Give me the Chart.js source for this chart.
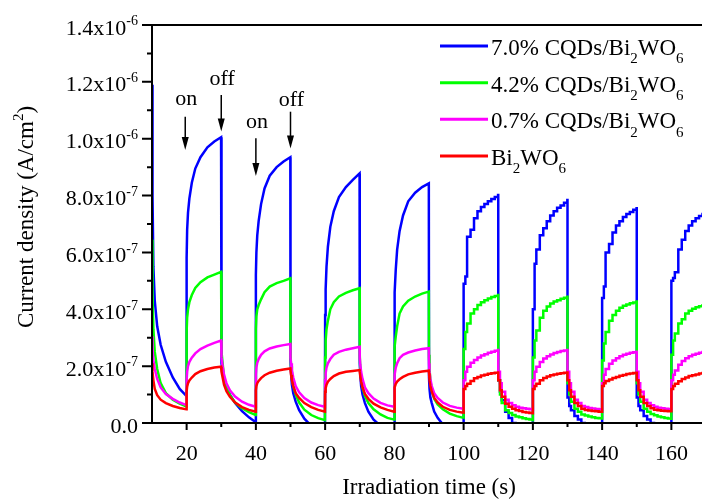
<!DOCTYPE html>
<html>
<head>
<meta charset="utf-8">
<script src="https://cdn.jsdelivr.net/npm/chart.js@4.4.0/dist/chart.umd.min.js"></script>
<style>
  html, body { margin: 0; padding: 0; background: #fff; overflow: hidden; }
  canvas { display: block; }
</style>
</head>
<body>
<canvas id="chart" width="706" height="499"></canvas>
<script>
// 値の単位は 1e-7 A/cm2
const UNIT = 1e-7;

// 10〜100 s（滑らかな区間）の時刻
const TIME_SMOOTH = [
  10, 10.15, 10.4, 10.8, 11.5, 12.5, 14, 16, 18, 19.95,
  20, 20.15, 20.4, 20.8, 21.5, 22.5, 24, 26, 28, 29.95,
  30, 30.15, 30.4, 30.8, 31.5, 32.5, 34, 36, 38, 39.95,
  40, 40.15, 40.4, 40.8, 41.5, 42.5, 44, 46, 48, 49.95,
  50, 50.15, 50.4, 50.8, 51.5, 52.5, 54, 56, 58, 59.95,
  60, 60.15, 60.4, 60.8, 61.5, 62.5, 64, 66, 68, 69.95,
  70, 70.15, 70.4, 70.8, 71.5, 72.5, 74, 76, 78, 79.95,
  80, 80.15, 80.4, 80.8, 81.5, 82.5, 84, 86, 88, 89.95,
  90, 90.15, 90.4, 90.8, 91.5, 92.5, 94, 96, 98, 99.95,
];

// 100〜170 s（階段状の区間）の時刻
const TIME_STEP = [
  100, 100.5, 101, 102, 103, 104, 105, 106, 107, 108, 109, 109.95,
  110, 110.5, 111, 112, 113, 114, 115, 116, 117, 118, 119, 119.95,
  120, 120.5, 121, 122, 123, 124, 125, 126, 127, 128, 129, 129.95,
  130, 130.5, 131, 132, 133, 134, 135, 136, 137, 138, 139, 139.95,
  140, 140.5, 141, 142, 143, 144, 145, 146, 147, 148, 149, 149.95,
  150, 150.5, 151, 152, 153, 154, 155, 156, 157, 158, 159, 159.95,
  160, 160.5, 161, 162, 163, 164, 165, 166, 167, 168, 169, 169.95,
];

const BLUE_SMOOTH = [
  11.9, 8.0, 5.5, 4.3, 3.4, 2.75, 2.15, 1.6, 1.2, 0.95,
  5.8, 6.8, 7.4, 7.9, 8.45, 8.95, 9.35, 9.7, 9.9, 10.05,
  2.6, 2.1, 1.8, 1.55, 1.25, 1.0, 0.7, 0.42, 0.2, 0.03,
  5.2, 6.0, 6.6, 7.1, 7.7, 8.25, 8.7, 9.0, 9.2, 9.35,
  2.2, 1.8, 1.35, 1.05, 0.75, 0.45, 0.15, -0.1, -0.3, -0.4,
  3.8, 4.7, 5.5, 6.2, 6.9, 7.45, 7.95, 8.3, 8.55, 8.78,
  2.1, 1.7, 1.3, 1.0, 0.7, 0.4, 0.12, -0.1, -0.3, -0.4,
  3.8, 4.6, 5.4, 6.1, 6.75, 7.3, 7.8, 8.1, 8.3, 8.43,
  1.6, 1.2, 0.9, 0.7, 0.4, 0.18, -0.05, -0.2, -0.35, -0.4,
];
const BLUE_STEP = [
  4.9, 5.15, 6.55, 6.8, 7.2, 7.45, 7.6, 7.7, 7.8, 7.88, 7.95, 8.02,
  1.5, 1.1, 0.8, 0.4, 0.18, 0, -0.15, -0.25, -0.3, -0.35, -0.4, -0.45,
  4.0, 5.6, 6.1, 6.6, 6.85, 7.1, 7.3, 7.45, 7.57, 7.65, 7.75, 7.84,
  0.9, 0.6, 0.45, 0.25, 0.12, 0, -0.1, -0.2, -0.25, -0.3, -0.35, -0.4,
  4.4, 4.8, 6.0, 6.3, 6.7, 6.95, 7.1, 7.25, 7.35, 7.42, 7.5, 7.55,
  0.9, 0.6, 0.45, 0.25, 0.12, 0, -0.1, -0.2, -0.25, -0.3, -0.35, -0.4,
  5.0, 5.1, 5.3, 6.1, 6.45, 6.75, 6.95, 7.1, 7.2, 7.28, 7.35, 7.4,
];

const GREEN_SMOOTH = [
  6.45, 4.5, 3.3, 2.5, 1.9, 1.4, 1.05, 0.82, 0.68, 0.58,
  3.2, 3.7, 4.0, 4.25, 4.5, 4.75, 4.95, 5.12, 5.22, 5.32,
  3.0, 2.5, 2.1, 1.6, 1.3, 0.98, 0.72, 0.52, 0.38, 0.28,
  3.3, 3.75, 4.0, 4.15, 4.35, 4.6, 4.8, 4.92, 5.0, 5.09,
  2.5, 2.0, 1.6, 1.3, 1.0, 0.72, 0.47, 0.28, 0.17, 0.1,
  2.3, 2.9, 3.3, 3.6, 4.0, 4.25, 4.45, 4.58, 4.67, 4.74,
  2.4, 1.9, 1.6, 1.25, 0.95, 0.7, 0.48, 0.3, 0.18, 0.12,
  2.3, 2.7, 3.05, 3.4, 3.85, 4.1, 4.3, 4.45, 4.55, 4.62,
  2.4, 1.9, 1.5, 1.15, 0.85, 0.65, 0.48, 0.33, 0.24, 0.18,
];
const GREEN_STEP = [
  2.6, 3.2, 3.5, 3.85, 4.0, 4.15, 4.25, 4.32, 4.38, 4.43, 4.47, 4.5,
  1.5, 1.0, 0.7, 0.45, 0.35, 0.28, 0.23, 0.2, 0.17, 0.14, 0.12, 0.1,
  2.3, 2.9, 3.25, 3.7, 3.95, 4.1, 4.2, 4.27, 4.32, 4.37, 4.41, 4.44,
  1.4, 1.0, 0.75, 0.5, 0.4, 0.3, 0.26, 0.23, 0.2, 0.18, 0.17, 0.16,
  2.2, 2.8, 3.2, 3.6, 3.8, 3.95, 4.05, 4.12, 4.17, 4.21, 4.24, 4.27,
  1.4, 1.0, 0.75, 0.5, 0.4, 0.32, 0.27, 0.23, 0.2, 0.18, 0.16, 0.15,
  2.4, 2.9, 3.15, 3.5, 3.65, 3.85, 3.95, 4.02, 4.07, 4.11, 4.14, 4.17,
];

const MAGENTA_SMOOTH = [
  3.05, 2.6, 2.2, 1.9, 1.55, 1.25, 1.02, 0.85, 0.72, 0.63,
  1.5, 1.8, 2.0, 2.15, 2.3, 2.45, 2.6, 2.72, 2.82, 2.9,
  2.6, 2.3, 2.0, 1.7, 1.4, 1.15, 0.93, 0.75, 0.64, 0.57,
  1.7, 1.95, 2.12, 2.25, 2.4, 2.52, 2.62, 2.69, 2.74, 2.78,
  2.3, 2.1, 1.85, 1.6, 1.3, 1.08, 0.88, 0.72, 0.63, 0.57,
  1.5, 1.75, 1.95, 2.1, 2.25, 2.4, 2.5, 2.58, 2.63, 2.68,
  2.3, 2.05, 1.8, 1.55, 1.25, 1.05, 0.86, 0.71, 0.62, 0.57,
  1.5, 1.7, 1.95, 2.1, 2.28, 2.4, 2.48, 2.55, 2.6, 2.63,
  2.1, 1.8, 1.55, 1.3, 1.05, 0.88, 0.72, 0.6, 0.54, 0.5,
];
const MAGENTA_STEP = [
  1.5, 1.8, 1.98, 2.12, 2.22, 2.3, 2.37, 2.42, 2.47, 2.51, 2.54, 2.57,
  1.8, 1.4, 1.1, 0.82, 0.7, 0.62, 0.57, 0.54, 0.52, 0.5, 0.48, 0.47,
  1.5, 1.8, 1.98, 2.15, 2.27, 2.35, 2.41, 2.46, 2.5, 2.53, 2.55, 2.57,
  1.8, 1.4, 1.1, 0.82, 0.7, 0.6, 0.56, 0.53, 0.51, 0.49, 0.48, 0.47,
  1.4, 1.7, 1.9, 2.08, 2.2, 2.28, 2.35, 2.4, 2.44, 2.47, 2.49, 2.51,
  1.8, 1.4, 1.1, 0.82, 0.7, 0.62, 0.57, 0.54, 0.52, 0.5, 0.49, 0.48,
  1.5, 1.7, 1.85, 2.05, 2.18, 2.28, 2.35, 2.4, 2.44, 2.47, 2.5, 2.52,
];

const RED_SMOOTH = [
  2.1, 1.8, 1.5, 1.2, 0.98, 0.82, 0.7, 0.6, 0.53, 0.48,
  1.1, 1.28, 1.4, 1.5, 1.6, 1.72, 1.82, 1.9, 1.95, 1.98,
  1.9, 1.8, 1.6, 1.35, 1.12, 0.92, 0.72, 0.56, 0.46, 0.4,
  1.15, 1.3, 1.4, 1.48, 1.58, 1.68, 1.77, 1.84, 1.88, 1.92,
  1.85, 1.7, 1.5, 1.3, 1.05, 0.88, 0.7, 0.56, 0.46, 0.4,
  1.1, 1.22, 1.35, 1.45, 1.55, 1.65, 1.74, 1.8, 1.83, 1.86,
  1.8, 1.65, 1.45, 1.25, 1.02, 0.85, 0.68, 0.55, 0.46, 0.4,
  1.1, 1.25, 1.38, 1.46, 1.54, 1.62, 1.71, 1.77, 1.81, 1.84,
  1.75, 1.5, 1.3, 1.1, 0.88, 0.72, 0.57, 0.46, 0.4, 0.36,
];
const RED_STEP = [
  1.2, 1.3, 1.38, 1.48, 1.57, 1.62, 1.67, 1.7, 1.73, 1.75, 1.77, 1.78,
  1.5, 1.15, 0.92, 0.68, 0.57, 0.5, 0.45, 0.42, 0.39, 0.37, 0.35, 0.34,
  1.2, 1.3, 1.38, 1.5, 1.58, 1.64, 1.68, 1.71, 1.73, 1.75, 1.77, 1.78,
  1.5, 1.15, 0.92, 0.7, 0.6, 0.5, 0.46, 0.44, 0.42, 0.41, 0.4, 0.4,
  1.3, 1.4, 1.48, 1.53, 1.58, 1.62, 1.66, 1.69, 1.72, 1.74, 1.76, 1.77,
  1.5, 1.15, 0.92, 0.7, 0.6, 0.52, 0.47, 0.45, 0.43, 0.42, 0.41, 0.41,
  1.2, 1.3, 1.38, 1.47, 1.55, 1.6, 1.65, 1.68, 1.71, 1.74, 1.76, 1.77,
];

// 凡例（"_" 下付き, "^" 上付き）
const LEGEND_LABELS = [
  ["7.0% CQDs/Bi", "_2", "WO", "_6"],
  ["4.2% CQDs/Bi", "_2", "WO", "_6"],
  ["0.7% CQDs/Bi", "_2", "WO", "_6"],
  ["Bi", "_2", "WO", "_6"],
];
const COLORS = ["#0000ff", "#00ff00", "#ff00ff", "#ff0000"];

// 軸目盛
const X_MAJOR = [20, 40, 60, 80, 100, 120, 140, 160];
const X_MINOR = [30, 50, 70, 90, 110, 130, 150];
const Y_MAJOR = [0, 2e-7, 4e-7, 6e-7, 8e-7, 1.0e-6, 1.2e-6, 1.4e-6];
const Y_MINOR = [1e-7, 3e-7, 5e-7, 7e-7, 9e-7, 1.1e-6, 1.3e-6];
const Y_LABELS = [
  ["0.0"], ["2.0x10", "^-7"], ["4.0x10", "^-7"], ["6.0x10", "^-7"],
  ["8.0x10", "^-7"], ["1.0x10", "^-6"], ["1.2x10", "^-6"], ["1.4x10", "^-6"],
];

// on / off 矢印
const ANNOT_LABELS = ["on", "off", "on", "off"];
const ANNOT_X      = [19.6, 30, 40, 50];
const ANNOT_TEXT_Y = [1.118e-6, 1.189e-6, 1.038e-6, 1.115e-6];
const ANNOT_TAIL_Y = [1.077e-6, 1.154e-6, 1.002e-6, 1.095e-6];
const ANNOT_TIP_Y  = [0.960e-6, 1.025e-6, 0.869e-6, 0.966e-6];

const SERIES = [
  { smooth: BLUE_SMOOTH,    step: BLUE_STEP,    order: 4 },
  { smooth: GREEN_SMOOTH,   step: GREEN_STEP,   order: 3 },
  { smooth: MAGENTA_SMOOTH, step: MAGENTA_STEP, order: 2 },
  { smooth: RED_SMOOTH,     step: RED_STEP,     order: 1 },
];

const FONT_FAMILY = '"Liberation Serif", "Times New Roman", serif';
const font = (size) => `${size}px ${FONT_FAMILY}`;

// 上付き・下付きを含む文字列を描く
function drawRich(ctx, label, x, y, align, size) {
  const small = Math.round(size * 0.65);
  const parts = label.map(s => {
    if (s[0] === "_") return { t: s.slice(1), sz: small, dy: size * 0.36 };
    if (s[0] === "^") return { t: s.slice(1), sz: small, dy: -size * 0.42 };
    return { t: s, sz: size, dy: 0 };
  });
  let total = 0;
  parts.forEach(p => { ctx.font = font(p.sz); p.w = ctx.measureText(p.t).width; total += p.w; });
  let cx = align === "right" ? x - total : align === "center" ? x - total / 2 : x;
  parts.forEach(p => {
    ctx.font = font(p.sz);
    ctx.fillText(p.t, cx, y + p.dy);
    cx += p.w;
  });
}

const datasets = [];
SERIES.forEach((s, i) => {
  const smoothData = TIME_SMOOTH.map((t, j) => ({ x: t, y: s.smooth[j] * UNIT }));
  const last = smoothData[smoothData.length - 1];
  const stepData = [last].concat(TIME_STEP.map((t, j) => ({ x: t, y: s.step[j] * UNIT })));
  const common = {
    borderColor: COLORS[i],
    borderWidth: 2.5,
    pointRadius: 0,
    tension: 0,
    fill: false,
    order: s.order,
  };
  datasets.push(Object.assign({ data: smoothData }, common));
  datasets.push(Object.assign({ data: stepData, stepped: true }, common));
});

const framePlugin = {
  id: "framePlugin",
  afterDraw(chart) {
    const ctx = chart.ctx;
    const { left, right, top, bottom } = chart.chartArea;
    const xs = chart.scales.x;
    const ys = chart.scales.y;
    ctx.save();
    ctx.strokeStyle = "#000";
    ctx.fillStyle = "#000";
    ctx.lineWidth = 2;

    // 軸線
    ctx.beginPath();
    ctx.moveTo(left, top);
    ctx.lineTo(right, top);
    ctx.moveTo(left, top - 1);
    ctx.lineTo(left, bottom);
    ctx.lineTo(right, bottom);
    ctx.stroke();

    // 目盛
    ctx.beginPath();
    Y_MAJOR.forEach(v => { const y = ys.getPixelForValue(v); ctx.moveTo(left - 10, y); ctx.lineTo(left, y); });
    Y_MINOR.forEach(v => { const y = ys.getPixelForValue(v); ctx.moveTo(left - 5, y); ctx.lineTo(left, y); });
    X_MAJOR.forEach(v => { const x = xs.getPixelForValue(v); ctx.moveTo(x, bottom); ctx.lineTo(x, bottom + 7); });
    X_MINOR.forEach(v => { const x = xs.getPixelForValue(v); ctx.moveTo(x, bottom); ctx.lineTo(x, bottom + 4); });
    ctx.stroke();

    // 目盛ラベル
    ctx.textBaseline = "alphabetic";
    Y_MAJOR.forEach((v, i) => {
      drawRich(ctx, Y_LABELS[i], 138, ys.getPixelForValue(v) + 9.5, "right", 22);
    });
    ctx.textAlign = "left";
    X_MAJOR.forEach(v => {
      drawRich(ctx, [String(v)], xs.getPixelForValue(v), 460, "center", 22);
    });

    // 軸タイトル
    drawRich(ctx, ["Irradiation time (s)"], 429, 494, "center", 23);
    ctx.save();
    ctx.translate(33, 217);
    ctx.rotate(-Math.PI / 2);
    drawRich(ctx, ["Current density (A/cm", "^2", ")"], 0, 0, "center", 23);
    ctx.restore();

    // 凡例
    const rows = [46, 82.7, 119.3, 156];
    LEGEND_LABELS.forEach((lab, i) => {
      ctx.strokeStyle = COLORS[i];
      ctx.lineWidth = 3;
      ctx.beginPath();
      ctx.moveTo(440, rows[i]);
      ctx.lineTo(488, rows[i]);
      ctx.stroke();
      ctx.fillStyle = "#000";
      drawRich(ctx, lab, 491, rows[i] + 9, "left", 23);
    });

    // on / off
    ctx.strokeStyle = "#000";
    ctx.fillStyle = "#000";
    ctx.lineWidth = 1.5;
    ANNOT_LABELS.forEach((lab, i) => {
      const x = xs.getPixelForValue(ANNOT_X[i]);
      const yText = ys.getPixelForValue(ANNOT_TEXT_Y[i]);
      const yTail = ys.getPixelForValue(ANNOT_TAIL_Y[i]);
      const yTip = ys.getPixelForValue(ANNOT_TIP_Y[i]);
      drawRich(ctx, [lab], x + 1, yText, "center", 22);
      ctx.beginPath();
      ctx.moveTo(x, yTail);
      ctx.lineTo(x, yTip - 8);
      ctx.stroke();
      ctx.beginPath();
      ctx.moveTo(x - 3.5, yTip - 13);
      ctx.lineTo(x + 3.5, yTip - 13);
      ctx.lineTo(x, yTip);
      ctx.closePath();
      ctx.fill();
    });
    ctx.restore();
  },
};

new Chart(document.getElementById("chart"), {
  type: "line",
  data: { datasets },
  options: {
    responsive: false,
    devicePixelRatio: 1,
    animation: false,
    events: [],
    layout: { padding: { left: 152, top: 25, right: 0, bottom: 76 } },
    plugins: { legend: { display: false }, tooltip: { enabled: false } },
    scales: {
      x: { type: "linear", min: 10, max: 170, display: false },
      y: { type: "linear", min: 0, max: 1.4e-6, display: false },
    },
  },
  plugins: [framePlugin],
});
</script>
</body>
</html>
